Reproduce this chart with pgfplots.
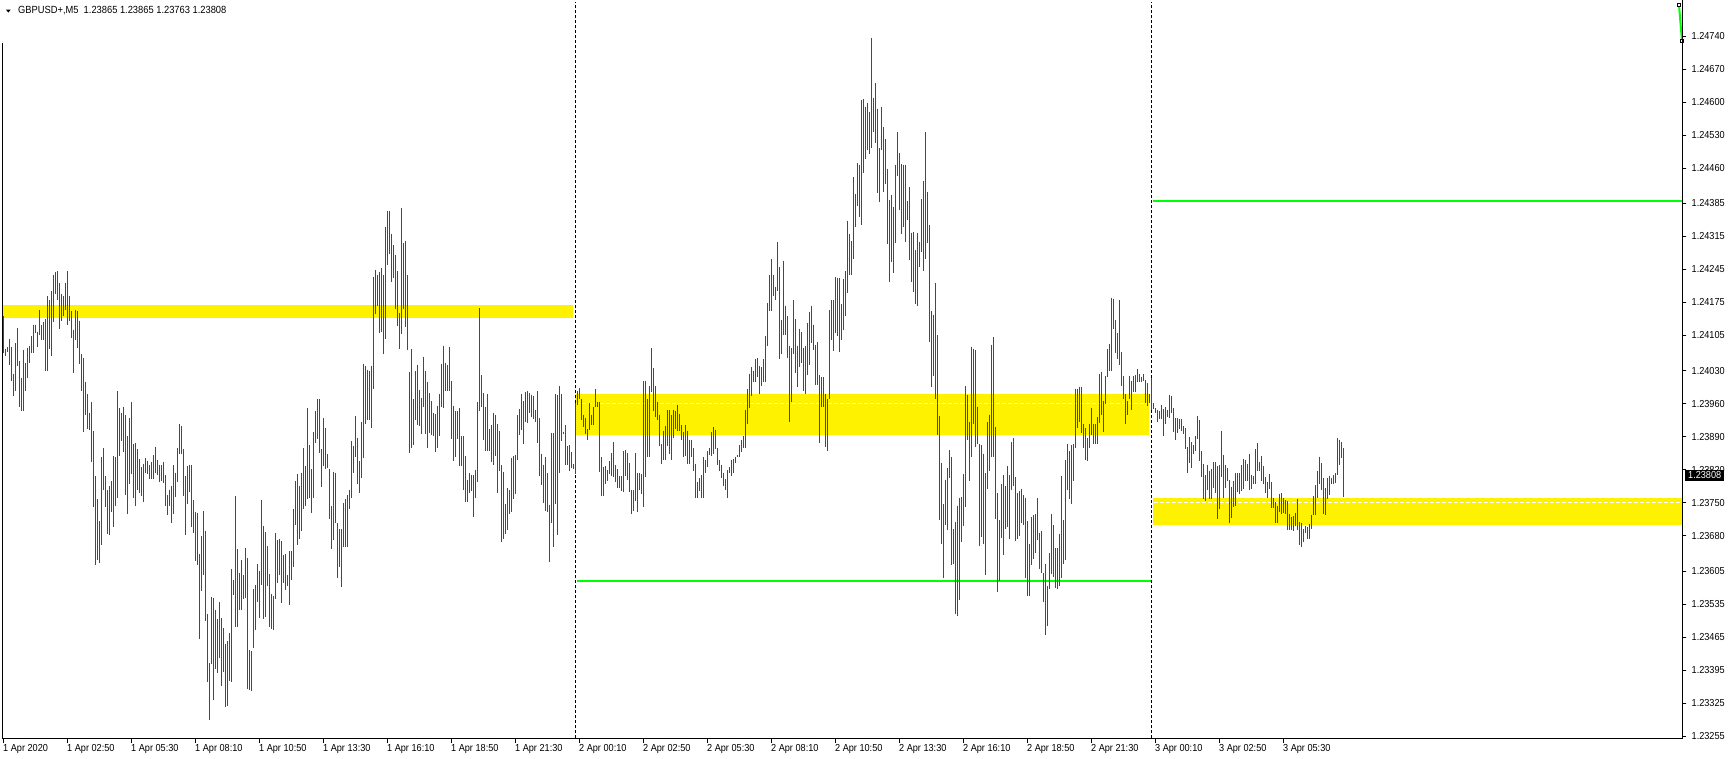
\documentclass[border=0pt]{standalone}
\usepackage{pgfplots}
\pgfplotsset{compat=1.18}
\usepackage{fontspec}
\setmainfont{Liberation Sans}[FakeStretch=0.9]
\definecolor{barred}{RGB}{240,0,0}
\definecolor{lime}{RGB}{0,255,0}
\begin{document}
\begin{tikzpicture}
\path[use as bounding box] (0,0) rectangle (1729bp,759bp);
\begin{axis}[
  at={(2.5bp,20.5bp)}, anchor=south west,
  scale only axis, width=1680bp, height=736bp,
  xmin=-0.5, xmax=839.5, ymin=1.232498, ymax=1.248111,
  axis line style={draw=none},
  xtick pos=bottom, ytick pos=right, yticklabel pos=right,
  tick align=outside, major tick length=4bp,
  tick style={black, line width=1bp},
  xtick={0,32,...,640},
  xticklabels={1 Apr 2020,1 Apr 02:50,1 Apr 05:30,1 Apr 08:10,1 Apr 10:50,1 Apr 13:30,1 Apr 16:10,1 Apr 18:50,1 Apr 21:30,2 Apr 00:10,2 Apr 02:50,2 Apr 05:30,2 Apr 08:10,2 Apr 10:50,2 Apr 13:30,2 Apr 16:10,2 Apr 18:50,2 Apr 21:30,3 Apr 00:10,3 Apr 02:50,3 Apr 05:30},
  ytick={1.23255,1.23325,1.23395,1.23465,1.23535,1.23605,1.23680,1.23750,1.23820,1.23890,1.23960,1.24030,1.24105,1.24175,1.24245,1.24315,1.24385,1.24460,1.24530,1.24600,1.24670,1.24740},
  yticklabels={1.23255,1.23325,1.23395,1.23465,1.23535,1.23605,1.23680,1.23750,1.23820,1.23890,1.23960,1.24030,1.24105,1.24175,1.24245,1.24315,1.24385,1.24460,1.24530,1.24600,1.24670,1.24740},
  xticklabel style={anchor=north west, inner sep=0pt, xshift=-0.5bp, yshift=-2bp, font=\fontsize{10.2}{12}\selectfont},
  yticklabel style={anchor=west, inner sep=0pt, xshift=5bp, font=\fontsize{10.2}{12}\selectfont},
  scaled y ticks=false,
  clip=false,
  unbounded coords=jump,
]
% support / resistance zones
\addplot[fill=yellow, draw=none] coordinates {(-0.5,1.24141) (284.75,1.24141) (284.75,1.24170) (-0.5,1.24170)} -- cycle;
\addplot[fill=yellow, draw=none] coordinates {(285.75,1.23893) (572.75,1.23893) (572.75,1.23980) (285.75,1.23980)} -- cycle;
\addplot[fill=yellow, draw=none] coordinates {(574.75,1.23702) (839.5,1.23702) (839.5,1.23759) (574.75,1.23759)} -- cycle;
\addplot[white, line width=1bp, dash pattern=on 4bp off 2bp] coordinates {(286.5,1.23961) (572.75,1.23961)};
\addplot[white, line width=1bp, dash pattern=on 4bp off 2bp] coordinates {(575.5,1.23751) (839.5,1.23751)};
% previous day low / high
\addplot[lime, line width=2bp] coordinates {(286.75,1.23583) (573.75,1.23583)};
\addplot[lime, line width=2bp] coordinates {(574.75,1.24390) (839.5,1.24390)};
% day separators
\addplot[black, line width=1bp, dash pattern=on 3bp off 2bp] coordinates {(286,1.232498) (286,1.248111)};
\addplot[black, line width=1bp, dash pattern=on 3bp off 2bp] coordinates {(574,1.232498) (574,1.248111)};
% high-low bars, M5
\addplot[barred, line width=1.3bp, mark=none] table[x=x, y=y] {
x y
0 1.24147
0 1.24068
nan nan
1 1.24077
1 1.24062
nan nan
2 1.24081
2 1.24069
nan nan
3 1.24098
3 1.24043
nan nan
4 1.24081
4 1.24009
nan nan
5 1.24024
5 1.23977
nan nan
6 1.24088
6 1.23986
nan nan
7 1.24121
7 1.24039
nan nan
8 1.24050
8 1.23952
nan nan
9 1.24015
9 1.23944
nan nan
10 1.24073
10 1.23944
nan nan
11 1.24047
11 1.23986
nan nan
12 1.24079
12 1.24015
nan nan
13 1.24083
13 1.24047
nan nan
14 1.24104
14 1.24068
nan nan
15 1.24128
15 1.24068
nan nan
16 1.24128
16 1.24111
nan nan
17 1.24113
17 1.24081
nan nan
18 1.24158
18 1.24105
nan nan
19 1.24128
19 1.24096
nan nan
20 1.24134
20 1.24096
nan nan
21 1.24140
21 1.24030
nan nan
22 1.24189
22 1.24030
nan nan
23 1.24181
23 1.24077
nan nan
24 1.24200
24 1.24062
nan nan
25 1.24234
25 1.24134
nan nan
26 1.24240
26 1.24193
nan nan
27 1.24242
27 1.24181
nan nan
28 1.24215
28 1.24119
nan nan
29 1.24193
29 1.24136
nan nan
30 1.24189
30 1.24145
nan nan
31 1.24217
31 1.24158
nan nan
32 1.24242
32 1.24126
nan nan
33 1.24189
33 1.24136
nan nan
34 1.24157
34 1.24100
nan nan
35 1.24117
35 1.24026
nan nan
36 1.24158
36 1.24096
nan nan
37 1.24157
37 1.24079
nan nan
38 1.24136
38 1.24045
nan nan
39 1.24066
39 1.23988
nan nan
40 1.24058
40 1.23901
nan nan
41 1.24007
41 1.23935
nan nan
42 1.23980
42 1.23907
nan nan
43 1.23941
43 1.23905
nan nan
44 1.23963
44 1.23836
nan nan
45 1.23903
45 1.23740
nan nan
46 1.23806
46 1.23617
nan nan
47 1.23757
47 1.23628
nan nan
48 1.23711
48 1.23622
nan nan
49 1.23846
49 1.23660
nan nan
50 1.23865
50 1.23776
nan nan
51 1.23806
51 1.23740
nan nan
52 1.23776
52 1.23683
nan nan
53 1.23785
53 1.23681
nan nan
54 1.23795
54 1.23730
nan nan
55 1.23850
55 1.23698
nan nan
56 1.23846
56 1.23742
nan nan
57 1.23986
57 1.23761
nan nan
58 1.23950
58 1.23850
nan nan
59 1.23941
59 1.23880
nan nan
60 1.23954
60 1.23857
nan nan
61 1.23935
61 1.23766
nan nan
62 1.23891
62 1.23725
nan nan
63 1.23929
63 1.23789
nan nan
64 1.23963
64 1.23810
nan nan
65 1.23874
65 1.23761
nan nan
66 1.23876
66 1.23744
nan nan
67 1.23863
67 1.23778
nan nan
68 1.23842
68 1.23770
nan nan
69 1.23825
69 1.23765
nan nan
70 1.23833
70 1.23751
nan nan
71 1.23844
71 1.23812
nan nan
72 1.23838
72 1.23810
nan nan
73 1.23829
73 1.23800
nan nan
74 1.23836
74 1.23800
nan nan
75 1.23852
75 1.23800
nan nan
76 1.23869
76 1.23814
nan nan
77 1.23840
77 1.23808
nan nan
78 1.23831
78 1.23793
nan nan
79 1.23829
79 1.23795
nan nan
80 1.23836
80 1.23791
nan nan
81 1.23808
81 1.23742
nan nan
82 1.23766
82 1.23723
nan nan
83 1.23778
83 1.23744
nan nan
84 1.23785
84 1.23708
nan nan
85 1.23829
85 1.23725
nan nan
86 1.23814
86 1.23763
nan nan
87 1.23865
87 1.23793
nan nan
88 1.23916
88 1.23854
nan nan
89 1.23912
89 1.23854
nan nan
90 1.23863
90 1.23765
nan nan
91 1.23806
91 1.23681
nan nan
92 1.23827
92 1.23747
nan nan
93 1.23831
93 1.23772
nan nan
94 1.23829
94 1.23698
nan nan
95 1.23755
95 1.23685
nan nan
96 1.23730
96 1.23626
nan nan
97 1.23729
97 1.23617
nan nan
98 1.23641
98 1.23461
nan nan
99 1.23679
99 1.23562
nan nan
100 1.23732
100 1.23596
nan nan
101 1.23691
101 1.23499
nan nan
102 1.23513
102 1.23369
nan nan
103 1.23410
103 1.23289
nan nan
104 1.23550
104 1.23408
nan nan
105 1.23547
105 1.23331
nan nan
106 1.23522
106 1.23397
nan nan
107 1.23503
107 1.23388
nan nan
108 1.23539
108 1.23420
nan nan
109 1.23505
109 1.23361
nan nan
110 1.23484
110 1.23391
nan nan
111 1.23450
111 1.23316
nan nan
112 1.23456
112 1.23318
nan nan
113 1.23473
113 1.23371
nan nan
114 1.23609
114 1.23369
nan nan
115 1.23586
115 1.23554
nan nan
116 1.23764
116 1.23486
nan nan
117 1.23651
117 1.23486
nan nan
118 1.23600
118 1.23522
nan nan
119 1.23628
119 1.23522
nan nan
120 1.23596
120 1.23545
nan nan
121 1.23653
121 1.23547
nan nan
122 1.23632
122 1.23354
nan nan
123 1.23437
123 1.23352
nan nan
124 1.23435
124 1.23350
nan nan
125 1.23566
125 1.23441
nan nan
126 1.23575
126 1.23480
nan nan
127 1.23619
127 1.23539
nan nan
128 1.23605
128 1.23505
nan nan
129 1.23755
129 1.23575
nan nan
130 1.23700
130 1.23503
nan nan
131 1.23687
131 1.23507
nan nan
132 1.23658
132 1.23573
nan nan
133 1.23598
133 1.23486
nan nan
134 1.23556
134 1.23482
nan nan
135 1.23552
135 1.23480
nan nan
136 1.23685
136 1.23545
nan nan
137 1.23670
137 1.23579
nan nan
138 1.23674
138 1.23596
nan nan
139 1.23668
139 1.23537
nan nan
140 1.23638
140 1.23579
nan nan
141 1.23641
141 1.23564
nan nan
142 1.23596
142 1.23573
nan nan
143 1.23647
143 1.23532
nan nan
144 1.23647
144 1.23586
nan nan
145 1.23736
145 1.23613
nan nan
146 1.23795
146 1.23702
nan nan
147 1.23810
147 1.23660
nan nan
148 1.23785
148 1.23672
nan nan
149 1.23812
149 1.23689
nan nan
150 1.23867
150 1.23736
nan nan
151 1.23827
151 1.23744
nan nan
152 1.23950
152 1.23757
nan nan
153 1.23872
153 1.23761
nan nan
154 1.23821
154 1.23729
nan nan
155 1.23899
155 1.23761
nan nan
156 1.23944
156 1.23876
nan nan
157 1.23969
157 1.23886
nan nan
158 1.23969
158 1.23855
nan nan
159 1.23863
159 1.23783
nan nan
160 1.23929
160 1.23827
nan nan
161 1.23908
161 1.23821
nan nan
162 1.23854
162 1.23823
nan nan
163 1.23821
163 1.23715
nan nan
164 1.23742
164 1.23651
nan nan
165 1.23816
165 1.23670
nan nan
166 1.23814
166 1.23706
nan nan
167 1.23706
167 1.23590
nan nan
168 1.23694
168 1.23613
nan nan
169 1.23694
169 1.23571
nan nan
170 1.23749
170 1.23655
nan nan
171 1.23757
171 1.23657
nan nan
172 1.23766
172 1.23657
nan nan
173 1.23778
173 1.23736
nan nan
174 1.23880
174 1.23759
nan nan
175 1.23871
175 1.23814
nan nan
176 1.23933
176 1.23846
nan nan
177 1.23888
177 1.23789
nan nan
178 1.23838
178 1.23770
nan nan
179 1.23922
179 1.23802
nan nan
180 1.24045
180 1.23844
nan nan
181 1.24041
181 1.23916
nan nan
182 1.24032
182 1.23925
nan nan
183 1.24030
183 1.23925
nan nan
184 1.24041
184 1.23908
nan nan
185 1.24229
185 1.23992
nan nan
186 1.24244
186 1.24151
nan nan
187 1.24234
187 1.24168
nan nan
188 1.24240
188 1.24109
nan nan
189 1.24247
189 1.24113
nan nan
190 1.24234
190 1.24066
nan nan
191 1.24335
191 1.24098
nan nan
192 1.24369
192 1.24255
nan nan
193 1.24369
193 1.24278
nan nan
194 1.24321
194 1.24219
nan nan
195 1.24297
195 1.24227
nan nan
196 1.24276
196 1.24160
nan nan
197 1.24242
197 1.24124
nan nan
198 1.24153
198 1.24077
nan nan
199 1.24376
199 1.24107
nan nan
200 1.24301
200 1.24160
nan nan
201 1.24306
201 1.24122
nan nan
202 1.24232
202 1.24073
nan nan
203 1.24028
203 1.23855
nan nan
204 1.24075
204 1.23867
nan nan
205 1.23969
205 1.23872
nan nan
206 1.24030
206 1.23925
nan nan
207 1.24043
207 1.23914
nan nan
208 1.23990
208 1.23912
nan nan
209 1.23973
209 1.23895
nan nan
210 1.24060
210 1.23952
nan nan
211 1.24030
211 1.23895
nan nan
212 1.24005
212 1.23865
nan nan
213 1.23982
213 1.23897
nan nan
214 1.23965
214 1.23893
nan nan
215 1.23941
215 1.23891
nan nan
216 1.23939
216 1.23857
nan nan
217 1.23956
217 1.23865
nan nan
218 1.23980
218 1.23891
nan nan
219 1.24045
219 1.23952
nan nan
220 1.24083
220 1.23950
nan nan
221 1.24047
221 1.23988
nan nan
222 1.24043
222 1.23988
nan nan
223 1.24081
223 1.23986
nan nan
224 1.24009
224 1.23886
nan nan
225 1.23956
225 1.23838
nan nan
226 1.23944
226 1.23848
nan nan
227 1.23944
227 1.23886
nan nan
228 1.23950
228 1.23827
nan nan
229 1.23891
229 1.23827
nan nan
230 1.23891
230 1.23778
nan nan
231 1.23850
231 1.23751
nan nan
232 1.23799
232 1.23751
nan nan
233 1.23812
233 1.23770
nan nan
234 1.23808
234 1.23774
nan nan
235 1.23808
235 1.23719
nan nan
236 1.23819
236 1.23761
nan nan
237 1.23963
237 1.23793
nan nan
238 1.24162
238 1.23944
nan nan
239 1.24020
239 1.23954
nan nan
240 1.23982
240 1.23884
nan nan
241 1.23954
241 1.23859
nan nan
242 1.23980
242 1.23859
nan nan
243 1.23907
243 1.23859
nan nan
244 1.23914
244 1.23836
nan nan
245 1.23941
245 1.23831
nan nan
246 1.23937
246 1.23850
nan nan
247 1.23916
247 1.23770
nan nan
248 1.23903
248 1.23818
nan nan
249 1.23829
249 1.23666
nan nan
250 1.23816
250 1.23672
nan nan
251 1.23747
251 1.23683
nan nan
252 1.23782
252 1.23693
nan nan
253 1.23776
253 1.23725
nan nan
254 1.23844
254 1.23730
nan nan
255 1.23850
255 1.23757
nan nan
256 1.23852
256 1.23768
nan nan
257 1.23935
257 1.23840
nan nan
258 1.23948
258 1.23893
nan nan
259 1.23980
259 1.23905
nan nan
260 1.23965
260 1.23874
nan nan
261 1.23984
261 1.23922
nan nan
262 1.23986
262 1.23920
nan nan
263 1.23982
263 1.23941
nan nan
264 1.23979
264 1.23931
nan nan
265 1.23977
265 1.23927
nan nan
266 1.23946
266 1.23922
nan nan
267 1.23986
267 1.23876
nan nan
268 1.23929
268 1.23806
nan nan
269 1.23854
269 1.23787
nan nan
270 1.23831
270 1.23749
nan nan
271 1.23848
271 1.23732
nan nan
272 1.23812
272 1.23730
nan nan
273 1.23746
273 1.23624
nan nan
274 1.23897
274 1.23708
nan nan
275 1.23897
275 1.23657
nan nan
276 1.23980
276 1.23747
nan nan
277 1.23979
277 1.23681
nan nan
278 1.23997
278 1.23814
nan nan
279 1.23980
279 1.23880
nan nan
280 1.23901
280 1.23895
nan nan
281 1.23914
281 1.23831
nan nan
282 1.23871
282 1.23829
nan nan
283 1.23872
283 1.23818
nan nan
284 1.23857
284 1.23823
nan nan
285 1.23833
285 1.23821
nan nan
286 1.23961
286 1.23810
nan nan
287 1.23986
287 1.23958
nan nan
288 1.23994
288 1.23971
nan nan
289 1.23971
289 1.23925
nan nan
290 1.23937
290 1.23910
nan nan
291 1.23929
291 1.23895
nan nan
292 1.23907
292 1.23884
nan nan
293 1.23961
293 1.23905
nan nan
294 1.23937
294 1.23914
nan nan
295 1.23952
295 1.23914
nan nan
296 1.23992
296 1.23952
nan nan
297 1.23963
297 1.23952
nan nan
298 1.23963
298 1.23816
nan nan
299 1.23846
299 1.23765
nan nan
300 1.23825
300 1.23765
nan nan
301 1.23827
301 1.23789
nan nan
302 1.23819
302 1.23797
nan nan
303 1.23838
303 1.23810
nan nan
304 1.23855
304 1.23806
nan nan
305 1.23878
305 1.23804
nan nan
306 1.23829
306 1.23793
nan nan
307 1.23821
307 1.23782
nan nan
308 1.23806
308 1.23782
nan nan
309 1.23806
309 1.23774
nan nan
310 1.23859
310 1.23772
nan nan
311 1.23861
311 1.23806
nan nan
312 1.23855
312 1.23799
nan nan
313 1.23835
313 1.23772
nan nan
314 1.23778
314 1.23727
nan nan
315 1.23776
315 1.23732
nan nan
316 1.23855
316 1.23753
nan nan
317 1.23814
317 1.23730
nan nan
318 1.23812
318 1.23776
nan nan
319 1.23810
319 1.23768
nan nan
320 1.24009
320 1.23740
nan nan
321 1.24009
321 1.23804
nan nan
322 1.23971
322 1.23846
nan nan
323 1.23997
323 1.23846
nan nan
324 1.24079
324 1.23984
nan nan
325 1.24035
325 1.23944
nan nan
326 1.23997
326 1.23931
nan nan
327 1.23963
327 1.23925
nan nan
328 1.23937
328 1.23871
nan nan
329 1.23874
329 1.23833
nan nan
330 1.23903
330 1.23840
nan nan
331 1.23912
331 1.23840
nan nan
332 1.23946
332 1.23871
nan nan
333 1.23946
333 1.23854
nan nan
334 1.23935
334 1.23840
nan nan
335 1.23946
335 1.23888
nan nan
336 1.23944
336 1.23907
nan nan
337 1.23957
337 1.23903
nan nan
338 1.23939
338 1.23903
nan nan
339 1.23914
339 1.23884
nan nan
340 1.23901
340 1.23848
nan nan
341 1.23914
341 1.23850
nan nan
342 1.23903
342 1.23833
nan nan
343 1.23884
343 1.23833
nan nan
344 1.23884
344 1.23846
nan nan
345 1.23867
345 1.23818
nan nan
346 1.23833
346 1.23759
nan nan
347 1.23793
347 1.23759
nan nan
348 1.23802
348 1.23774
nan nan
349 1.23808
349 1.23759
nan nan
350 1.23846
350 1.23759
nan nan
351 1.23840
351 1.23814
nan nan
352 1.23859
352 1.23825
nan nan
353 1.23867
353 1.23852
nan nan
354 1.23901
354 1.23850
nan nan
355 1.23910
355 1.23854
nan nan
356 1.23905
356 1.23863
nan nan
357 1.23865
357 1.23829
nan nan
358 1.23840
358 1.23818
nan nan
359 1.23831
359 1.23802
nan nan
360 1.23814
360 1.23785
nan nan
361 1.23800
361 1.23776
nan nan
362 1.23819
362 1.23761
nan nan
363 1.23825
363 1.23814
nan nan
364 1.23840
364 1.23806
nan nan
365 1.23842
365 1.23814
nan nan
366 1.23848
366 1.23835
nan nan
367 1.23852
367 1.23846
nan nan
368 1.23872
368 1.23846
nan nan
369 1.23884
369 1.23857
nan nan
370 1.23891
370 1.23865
nan nan
371 1.23946
371 1.23865
nan nan
372 1.23992
372 1.23918
nan nan
373 1.24024
373 1.23950
nan nan
374 1.24037
374 1.23977
nan nan
375 1.24030
375 1.24005
nan nan
376 1.24054
376 1.24007
nan nan
377 1.24056
377 1.24016
nan nan
378 1.24039
378 1.23980
nan nan
379 1.24037
379 1.23998
nan nan
380 1.24054
380 1.24007
nan nan
381 1.24104
381 1.24005
nan nan
382 1.24174
382 1.24083
nan nan
383 1.24234
383 1.24157
nan nan
384 1.24266
384 1.24157
nan nan
385 1.24234
385 1.24189
nan nan
386 1.24208
386 1.24179
nan nan
387 1.24302
387 1.24200
nan nan
388 1.24249
388 1.24054
nan nan
389 1.24138
389 1.24066
nan nan
390 1.24263
390 1.24105
nan nan
391 1.24168
391 1.24105
nan nan
392 1.24147
392 1.24058
nan nan
393 1.24083
393 1.23922
nan nan
394 1.24079
394 1.23963
nan nan
395 1.24179
395 1.24066
nan nan
396 1.24140
396 1.24026
nan nan
397 1.24083
397 1.23996
nan nan
398 1.24119
398 1.24037
nan nan
399 1.24113
399 1.24047
nan nan
400 1.24079
400 1.23988
nan nan
401 1.24083
401 1.23980
nan nan
402 1.24132
402 1.24020
nan nan
403 1.24155
403 1.24043
nan nan
404 1.24168
404 1.24088
nan nan
405 1.24128
405 1.24073
nan nan
406 1.24085
406 1.23999
nan nan
407 1.24090
407 1.23999
nan nan
408 1.24020
408 1.23876
nan nan
409 1.24016
409 1.23952
nan nan
410 1.24016
410 1.23952
nan nan
411 1.23980
411 1.23869
nan nan
412 1.23969
412 1.23859
nan nan
413 1.24158
413 1.23969
nan nan
414 1.24179
414 1.24096
nan nan
415 1.24179
415 1.24071
nan nan
416 1.24229
416 1.24111
nan nan
417 1.24227
417 1.24104
nan nan
418 1.24227
418 1.24069
nan nan
419 1.24172
419 1.24096
nan nan
420 1.24225
420 1.24117
nan nan
421 1.24242
421 1.24145
nan nan
422 1.24348
422 1.24194
nan nan
423 1.24319
423 1.24234
nan nan
424 1.24306
424 1.24234
nan nan
425 1.24441
425 1.24266
nan nan
426 1.24405
426 1.24335
nan nan
427 1.24471
427 1.24380
nan nan
428 1.24467
428 1.24357
nan nan
429 1.24604
429 1.24340
nan nan
430 1.24607
430 1.24450
nan nan
431 1.24590
431 1.24479
nan nan
432 1.24598
432 1.24499
nan nan
433 1.24579
433 1.24490
nan nan
434 1.24736
434 1.24503
nan nan
435 1.24609
435 1.24537
nan nan
436 1.24640
436 1.24513
nan nan
437 1.24586
437 1.24407
nan nan
438 1.24503
438 1.24388
nan nan
439 1.24590
439 1.24499
nan nan
440 1.24547
440 1.24409
nan nan
441 1.24522
441 1.24426
nan nan
442 1.24458
442 1.24299
nan nan
443 1.24393
443 1.24219
nan nan
444 1.24403
444 1.24261
nan nan
445 1.24378
445 1.24238
nan nan
446 1.24467
446 1.24301
nan nan
447 1.24537
447 1.24443
nan nan
448 1.24492
448 1.24371
nan nan
449 1.24469
449 1.24319
nan nan
450 1.24467
450 1.24335
nan nan
451 1.24467
451 1.24302
nan nan
452 1.24391
452 1.24350
nan nan
453 1.24420
453 1.24265
nan nan
454 1.24323
454 1.24219
nan nan
455 1.24325
455 1.24198
nan nan
456 1.24285
456 1.24172
nan nan
457 1.24323
457 1.24168
nan nan
458 1.24304
458 1.24249
nan nan
459 1.24395
459 1.24282
nan nan
460 1.24433
460 1.24242
nan nan
461 1.24537
461 1.24266
nan nan
462 1.24410
462 1.24301
nan nan
463 1.24340
463 1.24090
nan nan
464 1.24157
464 1.23996
nan nan
465 1.24149
465 1.24018
nan nan
466 1.24217
466 1.23969
nan nan
467 1.24105
467 1.23893
nan nan
468 1.23933
468 1.23713
nan nan
469 1.23835
469 1.23662
nan nan
470 1.23747
470 1.23590
nan nan
471 1.23799
471 1.23702
nan nan
472 1.23823
472 1.23693
nan nan
473 1.23861
473 1.23802
nan nan
474 1.23846
474 1.23617
nan nan
475 1.23694
475 1.23621
nan nan
476 1.23709
476 1.23514
nan nan
477 1.23744
477 1.23509
nan nan
478 1.23761
478 1.23543
nan nan
479 1.23763
479 1.23666
nan nan
480 1.23810
480 1.23700
nan nan
481 1.23997
481 1.23740
nan nan
482 1.23979
482 1.23882
nan nan
483 1.23922
483 1.23795
nan nan
484 1.24081
484 1.23846
nan nan
485 1.24077
485 1.23918
nan nan
486 1.24073
486 1.23869
nan nan
487 1.23954
487 1.23874
nan nan
488 1.23874
488 1.23658
nan nan
489 1.23872
489 1.23677
nan nan
490 1.23854
490 1.23662
nan nan
491 1.23812
491 1.23596
nan nan
492 1.23922
492 1.23780
nan nan
493 1.23937
493 1.23818
nan nan
494 1.24085
494 1.23848
nan nan
495 1.24102
495 1.23846
nan nan
496 1.23910
496 1.23715
nan nan
497 1.23770
497 1.23560
nan nan
498 1.23713
498 1.23583
nan nan
499 1.23789
499 1.23676
nan nan
500 1.23808
500 1.23638
nan nan
501 1.23785
501 1.23694
nan nan
502 1.23827
502 1.23698
nan nan
503 1.23808
503 1.23674
nan nan
504 1.23878
504 1.23778
nan nan
505 1.23887
505 1.23785
nan nan
506 1.23804
506 1.23668
nan nan
507 1.23770
507 1.23672
nan nan
508 1.23774
508 1.23679
nan nan
509 1.23780
509 1.23708
nan nan
510 1.23766
510 1.23702
nan nan
511 1.23761
511 1.23590
nan nan
512 1.23711
512 1.23552
nan nan
513 1.23662
513 1.23552
nan nan
514 1.23719
514 1.23617
nan nan
515 1.23723
515 1.23630
nan nan
516 1.23725
516 1.23643
nan nan
517 1.23759
517 1.23670
nan nan
518 1.23685
518 1.23609
nan nan
519 1.23691
519 1.23600
nan nan
520 1.23600
520 1.23539
nan nan
521 1.23620
521 1.23469
nan nan
522 1.23573
522 1.23488
nan nan
523 1.23643
523 1.23566
nan nan
524 1.23725
524 1.23598
nan nan
525 1.23702
525 1.23592
nan nan
526 1.23653
526 1.23569
nan nan
527 1.23653
527 1.23566
nan nan
528 1.23683
528 1.23573
nan nan
529 1.23806
529 1.23590
nan nan
530 1.23713
530 1.23621
nan nan
531 1.23840
531 1.23628
nan nan
532 1.23874
532 1.23776
nan nan
533 1.23859
533 1.23757
nan nan
534 1.23872
534 1.23747
nan nan
535 1.23874
535 1.23795
nan nan
536 1.23992
536 1.23865
nan nan
537 1.23992
537 1.23908
nan nan
538 1.23996
538 1.23922
nan nan
539 1.23996
539 1.23897
nan nan
540 1.23918
540 1.23865
nan nan
541 1.23908
541 1.23840
nan nan
542 1.23888
542 1.23838
nan nan
543 1.23918
543 1.23867
nan nan
544 1.23950
544 1.23893
nan nan
545 1.23918
545 1.23874
nan nan
546 1.23916
546 1.23874
nan nan
547 1.23931
547 1.23874
nan nan
548 1.24024
548 1.23920
nan nan
549 1.24028
549 1.23937
nan nan
550 1.23965
550 1.23899
nan nan
551 1.24018
551 1.23960
nan nan
552 1.24075
552 1.24016
nan nan
553 1.24086
553 1.24030
nan nan
554 1.24185
554 1.24030
nan nan
555 1.24183
555 1.24119
nan nan
556 1.24138
556 1.24068
nan nan
557 1.24111
557 1.24054
nan nan
558 1.24179
558 1.24043
nan nan
559 1.24069
559 1.23997
nan nan
560 1.24018
560 1.23969
nan nan
561 1.23980
561 1.23918
nan nan
562 1.23965
562 1.23937
nan nan
563 1.24018
563 1.23969
nan nan
564 1.24009
564 1.23946
nan nan
565 1.24018
565 1.23984
nan nan
566 1.24020
566 1.23984
nan nan
567 1.24033
567 1.24005
nan nan
568 1.24024
568 1.24007
nan nan
569 1.24016
569 1.24007
nan nan
570 1.24022
570 1.24009
nan nan
571 1.24011
571 1.23961
nan nan
572 1.24004
572 1.23956
nan nan
573 1.23980
573 1.23961
nan nan
574 1.24015
574 1.23946
nan nan
575 1.23961
575 1.23948
nan nan
576 1.23950
576 1.23941
nan nan
577 1.23946
577 1.23922
nan nan
578 1.23944
578 1.23927
nan nan
579 1.23957
579 1.23927
nan nan
580 1.23948
580 1.23891
nan nan
581 1.23952
581 1.23916
nan nan
582 1.23946
582 1.23931
nan nan
583 1.23979
583 1.23929
nan nan
584 1.23977
584 1.23941
nan nan
585 1.23950
585 1.23901
nan nan
586 1.23929
586 1.23884
nan nan
587 1.23929
587 1.23897
nan nan
588 1.23927
588 1.23907
nan nan
589 1.23927
589 1.23903
nan nan
590 1.23912
590 1.23895
nan nan
591 1.23908
591 1.23863
nan nan
592 1.23869
592 1.23812
nan nan
593 1.23889
593 1.23835
nan nan
594 1.23878
594 1.23823
nan nan
595 1.23872
595 1.23854
nan nan
596 1.23891
596 1.23859
nan nan
597 1.23933
597 1.23886
nan nan
598 1.23925
598 1.23838
nan nan
599 1.23859
599 1.23804
nan nan
600 1.23833
600 1.23757
nan nan
601 1.23808
601 1.23753
nan nan
602 1.23829
602 1.23778
nan nan
603 1.23818
603 1.23757
nan nan
604 1.23821
604 1.23757
nan nan
605 1.23836
605 1.23782
nan nan
606 1.23836
606 1.23770
nan nan
607 1.23827
607 1.23715
nan nan
608 1.23829
608 1.23736
nan nan
609 1.23903
609 1.23804
nan nan
610 1.23852
610 1.23761
nan nan
611 1.23831
611 1.23782
nan nan
612 1.23823
612 1.23795
nan nan
613 1.23799
613 1.23708
nan nan
614 1.23784
614 1.23717
nan nan
615 1.23797
615 1.23740
nan nan
616 1.23812
616 1.23744
nan nan
617 1.23812
617 1.23772
nan nan
618 1.23812
618 1.23768
nan nan
619 1.23831
619 1.23774
nan nan
620 1.23842
620 1.23780
nan nan
621 1.23840
621 1.23795
nan nan
622 1.23833
622 1.23797
nan nan
623 1.23854
623 1.23778
nan nan
624 1.23808
624 1.23780
nan nan
625 1.23806
625 1.23789
nan nan
626 1.23863
626 1.23789
nan nan
627 1.23876
627 1.23818
nan nan
628 1.23836
628 1.23818
nan nan
629 1.23850
629 1.23795
nan nan
630 1.23827
630 1.23789
nan nan
631 1.23804
631 1.23770
nan nan
632 1.23793
632 1.23759
nan nan
633 1.23810
633 1.23780
nan nan
634 1.23793
634 1.23738
nan nan
635 1.23761
635 1.23738
nan nan
636 1.23751
636 1.23708
nan nan
637 1.23742
637 1.23706
nan nan
638 1.23768
638 1.23730
nan nan
639 1.23770
639 1.23725
nan nan
640 1.23759
640 1.23729
nan nan
641 1.23755
641 1.23725
nan nan
642 1.23753
642 1.23693
nan nan
643 1.23725
643 1.23693
nan nan
644 1.23719
644 1.23693
nan nan
645 1.23721
645 1.23691
nan nan
646 1.23729
646 1.23700
nan nan
647 1.23757
647 1.23693
nan nan
648 1.23710
648 1.23660
nan nan
649 1.23708
649 1.23657
nan nan
650 1.23694
650 1.23666
nan nan
651 1.23700
651 1.23685
nan nan
652 1.23698
652 1.23672
nan nan
653 1.23704
653 1.23672
nan nan
654 1.23723
654 1.23694
nan nan
655 1.23764
655 1.23723
nan nan
656 1.23787
656 1.23723
nan nan
657 1.23818
657 1.23761
nan nan
658 1.23848
658 1.23789
nan nan
659 1.23835
659 1.23778
nan nan
660 1.23802
660 1.23727
nan nan
661 1.23782
661 1.23723
nan nan
662 1.23802
662 1.23757
nan nan
663 1.23806
663 1.23766
nan nan
664 1.23802
664 1.23789
nan nan
665 1.23808
665 1.23789
nan nan
666 1.23812
666 1.23791
nan nan
667 1.23887
667 1.23808
nan nan
668 1.23884
668 1.23829
nan nan
669 1.23878
669 1.23844
nan nan
670 1.23865
670 1.23763
};
% trend line stub at the top right
\addplot[lime, line width=2bp, mark=square*, mark size=1.3bp, mark options={fill=white, draw=black, line width=0.5bp}] coordinates {(837.75,1.24806) (839.25,1.24730)};
% current price label
\node[fill=black, text=white, anchor=west, inner xsep=3bp, inner ysep=1.8bp, xshift=2.5bp, font=\fontsize{10.2}{12}\selectfont] at (axis cs:839.5,1.23808) {1.23808};
\end{axis}
% chart frame: right and bottom, left edge below the header
\draw[black, line width=1bp] (2.5bp,716bp) -- (2.5bp,20.5bp) -- (1682.5bp,20.5bp) -- (1682.5bp,759bp);
% chart header
\fill[black] (6bp,749.3bp) -- (10.7bp,749.3bp) -- (8.35bp,746.4bp) -- cycle;
\node[anchor=base west, inner sep=0pt, font=\fontsize{10.4}{12}\selectfont] at (18bp,745bp) {GBPUSD+,M5\ \ 1.23865 1.23865 1.23763 1.23808};
\end{tikzpicture}
\end{document}
